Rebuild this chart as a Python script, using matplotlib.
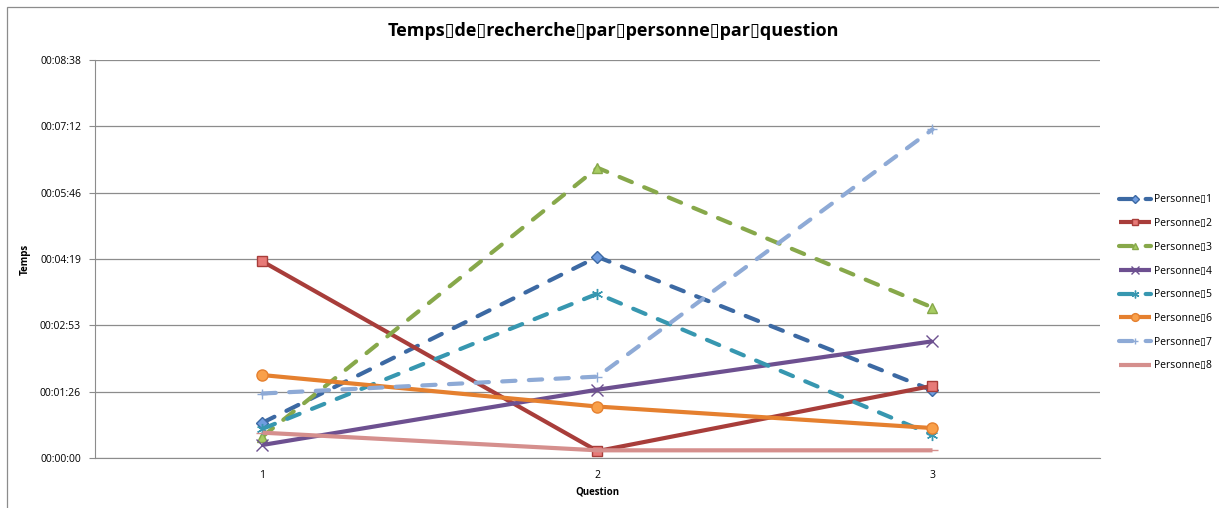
import matplotlib
matplotlib.use("Agg")
import matplotlib.pyplot as plt
from matplotlib.patches import Rectangle
from matplotlib.ticker import FixedLocator, FuncFormatter

questions = [1, 2, 3]
series_names = ["Personne\u25af1", "Personne\u25af2", "Personne\u25af3", "Personne\u25af4",
                "Personne\u25af5", "Personne\u25af6", "Personne\u25af7", "Personne\u25af8"]
# times in seconds
p1 = [46, 262, 88]
p2 = [256, 9, 94]
p3 = [28, 378, 196]
p4 = [17, 89, 152]
p5 = [38, 214, 30]
p6 = [108, 67, 39]
p7 = [84, 106, 428]
p8 = [33, 10, 10]
values = [p1, p2, p3, p4, p5, p6, p7, p8]
ytick_seconds = [0, 86.4, 172.8, 259.2, 345.6, 432, 518.4]

line_colors = ["#3c69a3", "#a83d3a", "#87a84a", "#6d5090", "#3797b0", "#e5802f", "#8eaad6", "#d58f8d"]
face_colors = ["#6f9de0", "#e77a78", "#a7cc62", "#8a6bb0", "#4fc0db", "#f9a04a", "#b7c9ea", "#eab0ae"]
dashed = [True, False, True, False, True, False, True, False]
markers = ["D", "s", "^", "x", (6, 2, 0), "o", "+", "_"]
msizes = [6, 7, 7, 8, 8, 8, 7, 8]

plt.rcParams['font.family'] = ['Open Sans', 'DejaVu Sans']

fig = plt.figure(figsize=(12.19, 5.08), dpi=100)
fig.patches.append(Rectangle((7 / 1219, -0.05), 1.1, 1 - 7 / 508 + 0.05, transform=fig.transFigure,
                             fill=False, edgecolor="#8c8c8c", linewidth=0.9))
ax = fig.add_axes([95 / 1219, 50 / 508, 1005 / 1219, 398 / 508])

for i, (name, vals) in enumerate(zip(series_names, values)):
    ls = (0, (3.2, 3.2)) if dashed[i] else "-"
    ax.plot(questions, vals, color=line_colors[i], linewidth=3.0, linestyle=ls,
            dash_capstyle="round", solid_capstyle="butt", marker=markers[i], markersize=msizes[i],
            markerfacecolor=face_colors[i], markeredgecolor=line_colors[i], markeredgewidth=1.0,
            label=name, zorder=3)

ax.set_xlim(0.5, 3.5)
ax.set_ylim(0, 518.4)
ax.yaxis.set_major_locator(FixedLocator(ytick_seconds))


def fmt(v, pos):
    s = int(round(v))
    return "%02d:%02d:%02d" % (s // 3600, (s % 3600) // 60, s % 60)


ax.yaxis.set_major_formatter(FuncFormatter(fmt))
ax.set_xticks(questions)
ax.set_xticklabels([str(q) for q in questions])
ax.grid(axis="y", color="#8c8c8c", linewidth=0.9)
ax.set_axisbelow(True)
for s in ["top", "right"]:
    ax.spines[s].set_visible(False)
ax.spines["left"].set_color("#8c8c8c")
ax.spines["bottom"].set_color("#8c8c8c")
ax.tick_params(axis="y", labelsize=7.5, length=4, color="#8c8c8c", pad=6)
ax.tick_params(axis="x", labelsize=7.5, length=0, pad=9)
ax.set_ylabel("Temps", fontsize=7, fontweight="bold")
ax.yaxis.set_label_coords((31 - 95) / 1005, 0.5)
ax.set_xlabel("Question", fontsize=7, fontweight="bold")
ax.xaxis.set_label_coords(0.5, -(486 - 458) / 398)
fig.text(613 / 1219, 1 - 31 / 508, "Temps\u25afde\u25afrecherche\u25afpar\u25afpersonne\u25afpar\u25afquestion",
         ha="center", va="center", fontsize=13, fontweight="bold")

leg = ax.legend(loc="center left", bbox_to_anchor=(1.01, 0.44), frameon=False, fontsize=7.5,
                handlelength=3.0, labelspacing=1.22, handletextpad=0.35, markerscale=0.7)

fig.savefig("out.png", dpi=100)
